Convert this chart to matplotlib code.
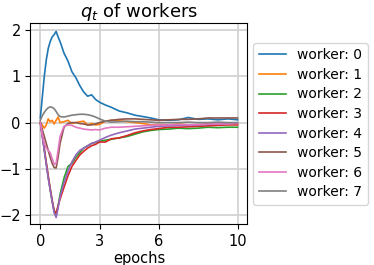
import matplotlib
matplotlib.use("Agg")
import matplotlib.pyplot as plt

epochs = [0, 0.1, 0.2, 0.3, 0.4, 0.5, 0.6, 0.7, 0.8, 0.9, 1.0, 1.2, 1.4, 1.6, 1.8,
          2.0, 2.2, 2.4, 2.6, 2.8, 3.0, 3.3, 3.6, 4.0, 4.4, 4.8, 5.2, 5.6, 6.0,
          6.5, 7.0, 7.5, 8.0, 8.5, 9.0, 9.5, 10.0]

q0 = [0.1, 0.55, 1.0, 1.35, 1.6, 1.75, 1.85, 1.9, 1.97, 1.85, 1.75, 1.5, 1.33, 1.1, 0.97,
      0.8, 0.66, 0.57, 0.6, 0.5, 0.44, 0.38, 0.33, 0.25, 0.21, 0.16, 0.13, 0.1, 0.06,
      0.05, 0.06, 0.11, 0.07, 0.08, 0.06, 0.08, 0.06]
q1 = [0.0, -0.05, -0.12, -0.05, 0.08, 0.02, 0.05, -0.03, 0.05, 0.12, 0.0, 0.02, 0.05, -0.02, 0.0,
      0.02, 0.03, -0.05, -0.02, -0.05, -0.04, 0.03, 0.05, 0.04, 0.02, 0.0, -0.02, -0.05, -0.04,
      -0.05, -0.03, -0.05, -0.05, -0.03, -0.02, -0.04, -0.03]
q2 = [0.0, -0.28, -0.58, -0.88, -1.18, -1.45, -1.7, -1.92, -2.0, -1.8, -1.55, -1.2, -0.95, -0.88, -0.75,
      -0.65, -0.55, -0.5, -0.45, -0.43, -0.4, -0.38, -0.36, -0.33, -0.3, -0.25, -0.2, -0.17, -0.15,
      -0.14, -0.12, -0.13, -0.12, -0.1, -0.11, -0.1, -0.1]
q3 = [0.0, -0.28, -0.57, -0.86, -1.15, -1.42, -1.68, -1.9, -1.95, -1.8, -1.65, -1.4, -1.15, -0.95, -0.82,
      -0.7, -0.62, -0.55, -0.5, -0.47, -0.42, -0.42, -0.35, -0.33, -0.28, -0.22, -0.18, -0.15, -0.13,
      -0.1, -0.1, -0.09, -0.08, -0.07, -0.06, -0.05, -0.05]
q4 = [0.0, -0.3, -0.6, -0.9, -1.2, -1.45, -1.7, -1.95, -2.05, -1.85, -1.6, -1.3, -1.05, -0.85, -0.7,
      -0.6, -0.55, -0.5, -0.45, -0.42, -0.38, -0.32, -0.27, -0.22, -0.18, -0.14, -0.12, -0.1, -0.08,
      -0.07, -0.06, -0.06, -0.05, -0.04, -0.03, -0.02, -0.01]
q5 = [0.0, -0.15, -0.3, -0.45, -0.6, -0.75, -0.88, -0.97, -0.98, -0.75, -0.45, -0.1, -0.02, 0.0, 0.0,
      -0.02, -0.03, -0.05, -0.05, -0.03, 0.0, 0.03, 0.05, 0.07, 0.08, 0.08, 0.07, 0.06, 0.05,
      0.06, 0.07, 0.07, 0.08, 0.1, 0.1, 0.1, 0.1]
q6 = [0.0, -0.25, -0.45, -0.55, -0.6, -0.65, -0.78, -0.9, -0.88, -0.6, -0.3, -0.08, -0.05, -0.06, -0.1,
      -0.12, -0.14, -0.15, -0.16, -0.15, -0.16, -0.12, -0.1, -0.1, -0.09, -0.08, -0.07, -0.06, -0.05,
      -0.05, -0.04, -0.05, -0.04, -0.03, -0.03, -0.03, -0.02]
q7 = [0.05, 0.15, 0.22, 0.28, 0.32, 0.34, 0.33, 0.3, 0.24, 0.17, 0.13, 0.12, 0.14, 0.16, 0.17,
      0.18, 0.18, 0.17, 0.15, 0.12, 0.08, 0.03, 0.01, 0.02, 0.03, 0.02, 0.02, 0.01, 0.0,
      0.0, 0.0, 0.01, 0.0, 0.0, 0.01, 0.0, 0.0]

workers = [q0, q1, q2, q3, q4, q5, q6, q7]

fig = plt.figure(figsize=(3.74, 2.65), dpi=100)
ax = fig.add_axes([0.0815, 0.153, 0.58, 0.76])

for i, q in enumerate(workers):
    ax.plot(epochs, q, linewidth=1.2, label='worker: %d' % i)

ax.set_xticks([0, 3, 6, 10])
ax.set_yticks([-2, -1, 0, 1, 2])
ax.set_xlim(-0.5, 10.5)
ax.set_ylim(-2.2, 2.15)
ax.tick_params(labelsize=10.5)
ax.grid(True, color='#d0d0d0', linewidth=1.2)
ax.set_xlabel('epochs', fontsize=10.5, labelpad=1)
ax.set_title('$q_t$ of workers', fontsize=13, pad=3)
ax.legend(loc='center left', bbox_to_anchor=(1.0, 0.5), fontsize=10,
          handlelength=2.0, labelspacing=0.4, borderaxespad=0.4)

fig.savefig('out.png', dpi=100)
